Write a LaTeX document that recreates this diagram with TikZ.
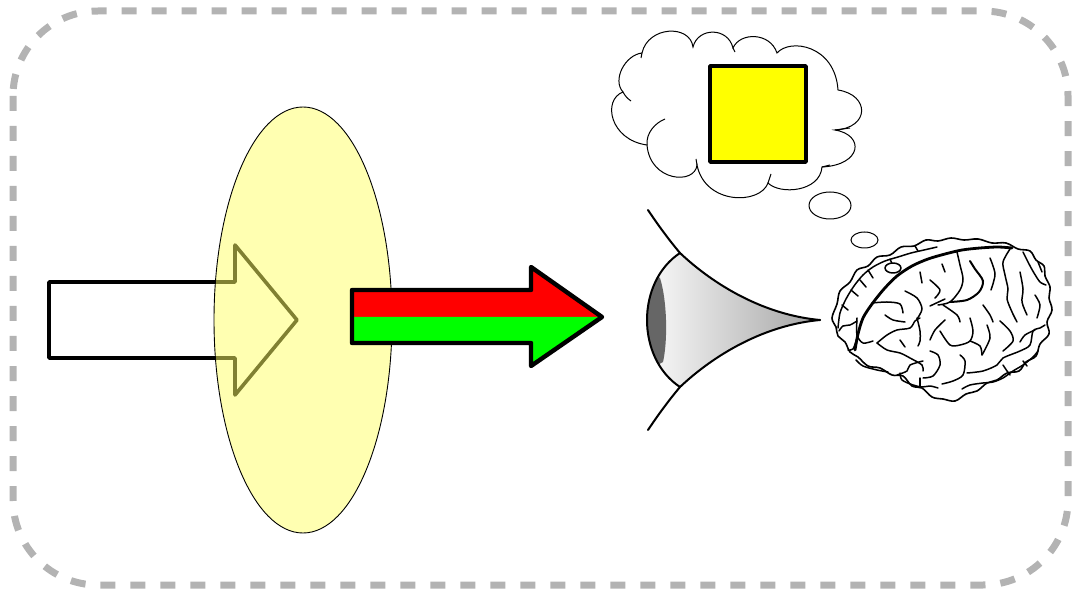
\documentclass[tikz,border=0pt]{standalone}
\definecolor{framegray}{RGB}{179,179,179}
\definecolor{lensyellow}{RGB}{255,255,100}
\definecolor{irisgray}{RGB}{102,102,102}
\definecolor{pureyellow}{RGB}{255,255,0}
\definecolor{purered}{RGB}{255,0,0}
\definecolor{puregreen}{RGB}{0,255,0}
\begin{document}
\begin{tikzpicture}[x=1pt,y=-1pt,
  frame/.style={draw=framegray, line width=7pt, dash pattern=on 15pt off 15pt, rounded corners=85pt},
  bold/.style={draw=black, line width=3.6pt, line join=round},
  heavy/.style={draw=black, line width=4.4pt, line join=round},
  thin/.style={draw=black, line width=1pt},
  lid/.style={draw=black, line width=2pt, line cap=round},
  sulcus/.style={draw=black, line width=1.5pt, line cap=round, line join=round},
  deep/.style={sulcus, line width=2.8pt},
]
\useasboundingbox (0,0) rectangle (1073,593);

% dashed frame
\draw[frame] (13,11) rectangle (1068,585);

% hollow input arrow
\draw[bold, fill=white] (49,282) -- (235,282) -- (235,245) -- (297,320) -- (235,395) -- (235,358) -- (49,358) -- cycle;

% translucent lens
\fill[lensyellow, fill opacity=0.5] (303,320) ellipse[x radius=89, y radius=213];
\draw[thin, line width=0.9pt] (303,320) ellipse[x radius=89, y radius=213];

% red/green output arrow
\fill[purered] (352,290) -- (531,290) -- (531,267) -- (602,317) -- (352,317) -- cycle;
\fill[puregreen] (352,317) -- (602,317) -- (531,366) -- (531,343) -- (352,343) -- cycle;
\draw[heavy] (352,290) -- (531,290) -- (531,267) -- (602,317) -- (531,366) -- (531,343) -- (352,343) -- cycle;

% eye
\coordinate (lidT) at (680,253);
\coordinate (lidB) at (680,387);
\coordinate (tip) at (820,320);
\shade[left color=white, middle color=black!4, right color=black!36]
  (lidT) .. controls (715,286) and (765,315) .. (tip)
  .. controls (765,325) and (715,354) .. (lidB)
  .. controls (636,358) and (636,282) .. (lidT) -- cycle;
\begin{scope}
  \clip (lidT) .. controls (715,286) and (765,315) .. (tip)
    .. controls (765,325) and (715,354) .. (lidB)
    .. controls (636,358) and (636,282) .. (lidT) -- cycle;
  \fill[irisgray] (630,260) -- (660,278) .. controls (667,300) and (668,340) .. (663,362) -- (630,380) -- cycle;
\end{scope}
\draw[lid] (lidT) .. controls (636,282) and (636,358) .. (lidB);
\draw[lid] (648,210) .. controls (658,225) and (669,240) .. (lidT) .. controls (715,286) and (765,315) .. (tip);
\draw[lid] (648,430) .. controls (658,415) and (669,400) .. (lidB) .. controls (715,354) and (765,325) .. (tip);

% thought cloud
\draw[thin, fill=white] (642,53) .. controls (648,26) and (690,24) .. (693,47)
  .. controls (698,27) and (728,27) .. (733,48)
  .. controls (740,32) and (770,32) .. (777,53)
  .. controls (790,38) and (835,45) .. (838,90)
  .. controls (870,95) and (870,128) .. (835,130)
  .. controls (865,135) and (862,165) .. (822,167)
  .. controls (820,192) and (780,195) .. (768,183)
  .. controls (760,205) and (705,205) .. (697,165)
  .. controls (695,185) and (650,182) .. (647,145)
  .. controls (610,140) and (602,100) .. (623,92)
  .. controls (612,80) and (625,55) .. (642,53) -- cycle;
\draw[thin] (647,145) .. controls (646,133) and (655,123) .. (665,119);
\draw[thin] (623,92) .. controls (625,96) and (628,99) .. (631,101);
\draw[thin] (697,165) -- (696,159);
\draw[thin] (768,183) -- (771,174);
\draw[thin] (822,167) -- (830,165);
\draw[thin] (835,130) -- (850,128);
\draw[thin] (642,53) -- (641,58);
\draw[thin] (733,48) -- (735,52);
\draw[draw=black, line width=3.8pt, fill=pureyellow, line join=round] (710,66) rectangle (806,162);

% thought bubbles
\draw[thin, fill=white] (830,205.5) ellipse[x radius=21, y radius=13.5];
\draw[thin, fill=white] (864.5,240) ellipse[x radius=13.5, y radius=8];

% brain
\draw[sulcus, line width=1.6pt, fill=white] plot[smooth cycle, tension=0.6] coordinates {
  (832,318) (837,304) (840,291) (850,282) (857,270) (868,266) (877,257) (890,255)
  (901,247) (914,246) (926,240) (938,241) (951,238) (964,240) (978,239) (992,243)
  (1006,243) (1018,249) (1030,251) (1036,260) (1044,266) (1045,276) (1050,287)
  (1049,298) (1052,310) (1047,322) (1049,334) (1040,344) (1036,356) (1026,362)
  (1019,371) (1007,373) (997,380) (987,383) (977,391) (966,394) (955,401) (943,399)
  (932,397) (922,388) (912,386) (903,376) (892,375) (880,368) (868,366) (858,357)
  (850,352) (845,342) (838,336) (836,327)};
\draw[sulcus] plot[smooth] coordinates {(838,328) (840,313) (846,299) (854,286) (863,275) (873,267) (885,261) (898,257) (911,253) (924,250) (937,247)};
\draw[sulcus] (851,290) -- (858,296);
\draw[sulcus] (868,270) -- (873,278);
\draw[sulcus] (890,259) -- (893,266);
\draw[sulcus] (915,246) -- (918,251);
\draw[sulcus] (842,305) -- (848,310);
\draw[sulcus] (860,280) -- (866,287);
\draw[deep] plot[smooth] coordinates {(855,350) (858,334) (863,318) (872,304) (884,289) (897,276) (912,266) (928,259) (945,254) (962,250) (980,248) (998,247) (1012,248)};
\draw[sulcus] plot[smooth] coordinates {(905,291) (917,298) (922,309) (917,319)};
\draw[sulcus] plot[smooth] coordinates {(920,272) (922,283)};
\draw[sulcus] plot[smooth] coordinates {(872,303) (887,302) (900,304) (903,313)};
\draw[sulcus] plot[smooth] coordinates {(930,306) (945,299)};
\draw[sulcus] plot[smooth] coordinates {(930,280) (940,290) (935,298)};
\draw[sulcus] plot[smooth] coordinates {(885,315) (893,320) (905,322)};
\draw[sulcus] plot[smooth] coordinates {(957,252) (960,265) (963,279) (960,290) (950,302) (938,305)};
\draw[sulcus, line width=2pt] plot[smooth] coordinates {(950,302) (967,300) (979,292) (983,281) (975,269) (970,261)};
\draw[sulcus] plot[smooth] coordinates {(990,258) (995,274) (991,290)};
\draw[sulcus] plot[smooth] coordinates {(1010,249) (1003,262) (1005,275) (1008,289) (1007,299) (1012,312) (1017,322)};
\draw[sulcus] plot[smooth] coordinates {(1023,252) (1029,264) (1034,273) (1040,282) (1046,285)};
\draw[sulcus] plot[smooth] coordinates {(1038,262) (1042,272)};
\draw[sulcus] plot[smooth] coordinates {(1020,272) (1023,289) (1022,302) (1027,315)};
\draw[sulcus] plot[smooth] coordinates {(983,305) (990,315) (993,322)};
\draw[sulcus] plot[smooth] coordinates {(943,305) (957,315) (960,322)};
\draw[sulcus] plot[smooth] coordinates {(1035,295) (1040,305) (1037,318)};
\draw[sulcus] plot[smooth] coordinates {(942,264) (945,272)};
\draw[sulcus] plot[smooth] coordinates {(839,331) (843,326) (850,325) (857,321)};
\draw[sulcus] plot[smooth] coordinates {(857,318) (857,335) (863,343) (873,341)};
\draw[sulcus] plot[smooth] coordinates {(848,350) (853,349) (857,338)};
\draw[sulcus] plot[smooth] coordinates {(877,343) (887,335) (897,330) (910,328) (915,321) (920,318)};
\draw[sulcus] plot[smooth] coordinates {(877,343) (887,350) (900,353) (910,358) (922,365) (923,371)};
\draw[sulcus] plot[smooth] coordinates {(900,340) (905,347)};
\draw[sulcus] plot[smooth] coordinates {(856,360) (863,366) (877,370) (888,372)};
\draw[sulcus] plot[smooth] coordinates {(897,375) (907,371) (910,365) (923,361)};
\draw[sulcus] plot[smooth] coordinates {(900,373) (902,380) (913,385) (922,387) (930,386) (938,388)};
\draw[sulcus] plot[smooth] coordinates {(920,378) (920,386)};
\draw[sulcus] plot[smooth] coordinates {(930,351) (938,355) (940,365) (933,376) (923,378)};
\draw[sulcus] plot[smooth] coordinates {(917,318) (920,331) (920,341) (918,346)};
\draw[sulcus] plot[smooth] coordinates {(945,320) (935,330) (930,340)};
\draw[sulcus] plot[smooth] coordinates {(940,331) (950,345) (960,345) (970,341) (973,331) (970,318)};
\draw[sulcus] plot[smooth] coordinates {(970,341) (980,346) (982,355)};
\draw[sulcus] plot[smooth] coordinates {(982,355) (990,338) (987,325)};
\draw[sulcus] plot[smooth] coordinates {(942,384) (953,381) (963,375) (965,361) (960,355)};
\draw[sulcus] plot[smooth] coordinates {(967,373) (983,371) (997,365) (1003,358) (1020,351) (1030,345) (1033,331) (1040,328) (1045,325)};
\draw[sulcus] plot[smooth] coordinates {(1000,321) (1010,331) (1013,341) (1003,351)};
\draw[sulcus] plot[smooth] coordinates {(1035,330) (1025,335) (1020,342)};
\draw[sulcus] plot[smooth] coordinates {(962,389) (970,385) (983,383) (993,382) (1003,378) (1013,371) (1023,365) (1033,357) (1038,351)};
\draw[sulcus] plot[smooth] coordinates {(1003,365) (1007,371) (1010,375)};
\draw[sulcus] plot[smooth] coordinates {(1023,361) (1027,366)};
\draw[sulcus, fill=white] (893,268) ellipse[x radius=8, y radius=5];
\end{tikzpicture}
\end{document}
